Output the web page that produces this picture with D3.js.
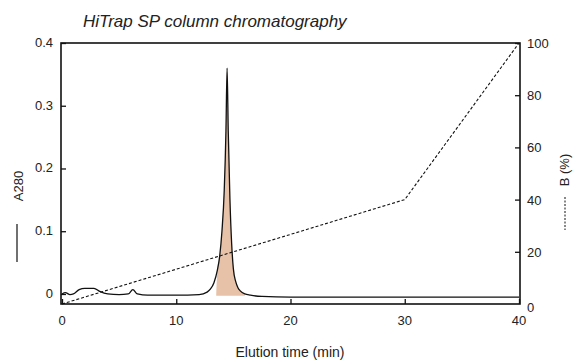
<!DOCTYPE html>
<html>
<head>
<meta charset="utf-8">
<script src="https://cdn.jsdelivr.net/npm/d3@7"></script>
<style>
  body { margin: 0; background: #fff; }
  text { font-family: "Liberation Sans", Arial, sans-serif; fill: #222; }
</style>
</head>
<body>
<div id="chart"></div>
<script>
// A280 trace (time in min, absorbance)
var traceTime = [0, 0.3, 0.7, 1.0, 1.5, 2.0, 2.8, 3.3, 4.0, 5.0, 5.8, 6.2, 6.6, 7.5, 10, 12, 12.7, 13.0, 13.3,
                 13.6, 13.8, 14.0, 14.2, 14.35, 14.45, 14.55, 14.7, 14.85, 15.0, 15.2, 15.4, 15.6, 16.0, 16.5, 17.5, 20, 30, 40];
var traceA280 = [0, 0.002, -0.001, 0, 0.007, 0.009, 0.009, 0.004, 0, -0.001, 0, 0.007, 0, -0.002, -0.002, -0.001, 0.003, 0.008, 0.018,
                 0.038, 0.06, 0.1, 0.165, 0.26, 0.36, 0.26, 0.15, 0.08, 0.04, 0.02, 0.01, 0.005, 0.0, -0.002, -0.004, -0.005, -0.005, -0.005];
// gradient of buffer B (%)
var gradTime = [0, 30, 40];
var gradB = [0, 40, 100];
// shaded fraction (start, end in min)
var fractionRange = [13.5, 16.0];

var xTicks = [0, 10, 20, 30, 40];
var yLeftTicks = [0, 0.1, 0.2, 0.3, 0.4];
var yRightTicks = [0, 20, 40, 60, 80, 100];

function init() {
    var w = 577, h = 362;
    var left = 61, right = 520, top = 43, bottom = 304;

    var svg = d3.select("#chart").append("svg")
        .attr("width", w)
        .attr("height", h);

    var x = d3.scaleLinear().domain([0, 40]).range([left + 1, right - 1]);
    var yA = d3.scaleLinear().domain([-0.016, 0.4]).range([bottom, top]);
    var yB = d3.scaleLinear().domain([0, 100]).range([bottom, top]);

    var trace = traceTime.map(function(t, i) { return [t, traceA280[i]]; });

    // shaded peak, starting from the baseline so there is no hard edge
    var shade = [[fractionRange[0], -0.003]].concat(trace.filter(function(d) {
        return d[0] > fractionRange[0] && d[0] <= fractionRange[1];
    }));
    var area = d3.area()
        .x(function(d) { return x(d[0]); })
        .y0(yA(-0.003))
        .y1(function(d) { return yA(d[1]); })
        .curve(d3.curveMonotoneX);
    svg.append("path")
        .attr("d", area(shade))
        .attr("fill", "#e7c2a8");

    // B gradient
    var gline = d3.line()
        .x(function(d, i) { return x(gradTime[i]); })
        .y(function(d) { return yB(d); });
    svg.append("path")
        .attr("d", gline(gradB))
        .attr("fill", "none")
        .attr("stroke", "#111")
        .attr("stroke-width", 1.1)
        .attr("stroke-dasharray", "3,2");

    // A280 trace
    var line = d3.line()
        .x(function(d) { return x(d[0]); })
        .y(function(d) { return yA(d[1]); })
        .curve(d3.curveMonotoneX);
    svg.append("path")
        .attr("d", line(trace))
        .attr("fill", "none")
        .attr("stroke", "#111")
        .attr("stroke-width", 1.3);

    // frame
    svg.append("rect")
        .attr("x", left).attr("y", top)
        .attr("width", right - left).attr("height", bottom - top)
        .attr("fill", "none")
        .attr("stroke", "#111")
        .attr("stroke-width", 1.6);

    // axes with inward ticks
    var xAxis = d3.axisTop(x).tickValues(xTicks).tickSize(5).tickFormat("");
    svg.append("g").attr("transform", "translate(0," + bottom + ")").call(xAxis);
    svg.selectAll("text.xl").data(xTicks).enter().append("text")
        .attr("class", "xl")
        .attr("x", function(d) { return x(d); })
        .attr("y", bottom + 21)
        .attr("text-anchor", "middle")
        .attr("font-size", 13)
        .text(function(d) { return d; });

    var yAxisL = d3.axisRight(yA).tickValues(yLeftTicks).tickSize(5).tickFormat("");
    svg.append("g").attr("transform", "translate(" + left + ",0)").call(yAxisL);
    svg.selectAll("text.yl").data(yLeftTicks).enter().append("text")
        .attr("class", "yl")
        .attr("x", left - 8)
        .attr("y", function(d) { return yA(d) + 4; })
        .attr("text-anchor", "end")
        .attr("font-size", 13)
        .text(function(d) { return d === 0 ? "0" : d3.format(".1f")(d); });

    var yAxisR = d3.axisLeft(yB).tickValues(yRightTicks.slice(1)).tickSize(5).tickFormat("");
    svg.append("g").attr("transform", "translate(" + right + ",0)").call(yAxisR);
    svg.selectAll("text.yr").data(yRightTicks).enter().append("text")
        .attr("class", "yr")
        .attr("x", right + 7)
        .attr("y", function(d) { return yB(d) + (d === 0 ? 8 : 5); })
        .attr("font-size", 13)
        .text(function(d) { return d; });

    svg.selectAll(".domain").remove();
    svg.selectAll(".tick line").attr("stroke", "#111").attr("stroke-width", 1.3);

    // title
    svg.append("text")
        .attr("x", 83).attr("y", 27)
        .attr("font-size", 17)
        .attr("font-style", "italic")
        .text("HiTrap SP column chromatography");

    // x label
    svg.append("text")
        .attr("x", 290).attr("y", 357)
        .attr("text-anchor", "middle")
        .attr("font-size", 14)
        .text("Elution time (min)");

    // left label + legend line
    svg.append("text")
        .attr("transform", "translate(23,186) rotate(-90)")
        .attr("text-anchor", "middle")
        .attr("font-size", 13)
        .text("A280");
    svg.append("line")
        .attr("x1", 17).attr("x2", 17).attr("y1", 224).attr("y2", 262)
        .attr("stroke", "#111").attr("stroke-width", 1.2);

    // right label + legend line
    svg.append("text")
        .attr("transform", "translate(569,170) rotate(-90)")
        .attr("text-anchor", "middle")
        .attr("font-size", 13)
        .text("B (%)");
    svg.append("line")
        .attr("x1", 565).attr("x2", 565).attr("y1", 197).attr("y2", 230)
        .attr("stroke", "#111").attr("stroke-width", 1)
        .attr("stroke-dasharray", "2,1.5");
}
window.onload = init;
</script>
</body>
</html>
